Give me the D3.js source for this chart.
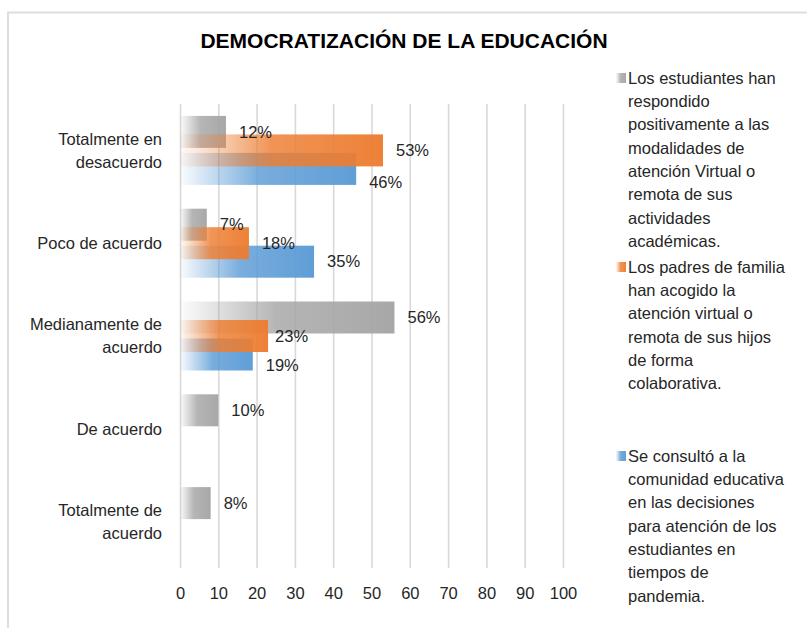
<html>
<head>
  <meta charset="utf-8">
  <style>
    body { margin: 0; background: #fff; }
    text { font-family: "Liberation Sans", Arial, sans-serif; }
  </style>
</head>
<body>
<div id="mydiv"></div>
<script src="https://d3js.org/d3.v7.min.js"></script>
<script>

// Data
var categories = ["Totalmente en\ndesacuerdo", "Poco de acuerdo", "Medianamente de\nacuerdo", "De acuerdo", "Totalmente de\nacuerdo"]
var seriesNames = [
  "Los estudiantes han\nrespondido\npositivamente a las\nmodalidades de\natención Virtual o\nremota de sus\nactividades\nacadémicas.",
  "Los padres de familia\nhan acogido la\natención virtual o\nremota de sus hijos\nde forma\ncolaborativa.",
  "Se consultó a la\ncomunidad educativa\nen las decisiones\npara atención de los\nestudiantes en\ntiempos de\npandemia."
]
var estudiantes = [12, 7, 56, 10, 8]
var padres = [53, 18, 23, null, null]
var consulta = [46, 35, 19, null, null]
var xTicks = [0, 10, 20, 30, 40, 50, 60, 70, 80, 90, 100]
var seriesColors = ["#a5a5a5", "#ed7d31", "#5b9bd5"]

let width = 807, height = 628;
let svg = d3.select("#mydiv")
  .append("svg")
  .attr("width", width)
  .attr("height", height)

// frame of the chart
svg.append("rect")
  .attr("x", 8).attr("y", 12.5)
  .attr("width", 820).attr("height", 640)
  .attr("fill", "none")
  .attr("stroke", "#dedede")
  .attr("stroke-width", 2)

svg.append("text")
  .attr("x", 404).attr("y", 48)
  .attr("text-anchor", "middle")
  .style("font-size", "21px")
  .style("font-weight", "bold")
  .attr("fill", "#000")
  .text("DEMOCRATIZACIÓN DE LA EDUCACIÓN")

// gradients, light on the left like excel
let defs = svg.append("defs")
seriesColors.forEach(function(c, i) {
  let g = defs.append("linearGradient").attr("id", "grad" + i)
  g.append("stop").attr("offset", "0%").attr("stop-color", c).attr("stop-opacity", 0.03)
  g.append("stop").attr("offset", "45%").attr("stop-color", c).attr("stop-opacity", 0.82)
  g.append("stop").attr("offset", "100%").attr("stop-color", c).attr("stop-opacity", 0.97)
})

let x = d3.scaleLinear().domain([0, 100]).range([180, 563])
let y0 = d3.scaleBand().domain(categories).range([104, 568])
let y1 = d3.scalePoint().domain([0, 1, 2]).range([0, 37])
let barH = 32
let groupOff = (y0.bandwidth() - (37 + barH)) / 2

// gridlines + tick labels
let xAxis = d3.axisBottom(x)
  .tickValues(xTicks)
  .tickSizeInner(-(568 - 104))
  .tickSizeOuter(0)
  .tickPadding(19)
let ax = svg.append("g")
  .attr("transform", "translate(0,568)")
  .call(xAxis)
ax.select(".domain").remove()
ax.selectAll("line").attr("stroke", "#d9d9d9").attr("stroke-width", 1.6)
ax.selectAll("text")
  .style("font-size", "16.5px")
  .style("font-family", "'Liberation Sans', Arial, sans-serif")
  .attr("fill", "#262626")

// category labels
categories.forEach(function(c) {
  let lines = c.split("\n")
  let cy = y0(c) + y0.bandwidth() / 2
  let t = svg.append("text")
    .attr("text-anchor", "end")
    .style("font-size", "16.5px")
    .attr("fill", "#262626")
  lines.forEach(function(l, k) {
    t.append("tspan")
      .attr("x", 162)
      .attr("y", cy + (k - (lines.length - 1) / 2) * 23)
      .attr("dy", "0.35em")
      .text(l)
  })
})

let allSeries = [estudiantes, padres, consulta]
// drawing order: gray, blue, orange on top
let drawOrder = [0, 2, 1]
let barsG = svg.append("g")
drawOrder.forEach(function(s) {
  barsG.selectAll(".bar" + s)
    .data(allSeries[s].map(function(v, i) { return {v: v, c: categories[i]} }).filter(function(d) { return d.v != null }))
    .enter()
    .append("rect")
    .attr("x", x(0))
    .attr("y", function(d) { return y0(d.c) + groupOff + y1(s) })
    .attr("width", function(d) { return x(d.v) - x(0) })
    .attr("height", barH)
    .attr("fill", "url(#grad" + s + ")")
})

// value labels (a couple were nudged in the original)
let nudge = {"2-0": [0, 13], "2-2": [0, 11], "1-2": [-6, 0]}
allSeries.forEach(function(vals, s) {
  vals.forEach(function(v, i) {
    if (v == null) return
    let n = nudge[s + "-" + i] || [0, 0]
    svg.append("text")
      .attr("x", x(v) + 13 + n[0])
      .attr("y", y0(categories[i]) + groupOff + y1(s) + barH / 2 + n[1])
      .attr("dy", "0.35em")
      .style("font-size", "16.5px")
      .attr("fill", "#262626")
      .text(v + "%")
  })
})

// legend
seriesNames.forEach(function(name, s) {
  let top = 78 + 189 * s
  svg.append("rect")
    .attr("x", 616).attr("y", top - 5)
    .attr("width", 10).attr("height", 10)
    .attr("fill", "url(#grad" + s + ")")
  let t = svg.append("text")
    .style("font-size", "16.5px")
    .attr("fill", "#262626")
  name.split("\n").forEach(function(l, k) {
    t.append("tspan")
      .attr("x", 628)
      .attr("y", top + k * 23.3)
      .attr("dy", "0.35em")
      .text(l)
  })
})

</script>
</body>
</html>
